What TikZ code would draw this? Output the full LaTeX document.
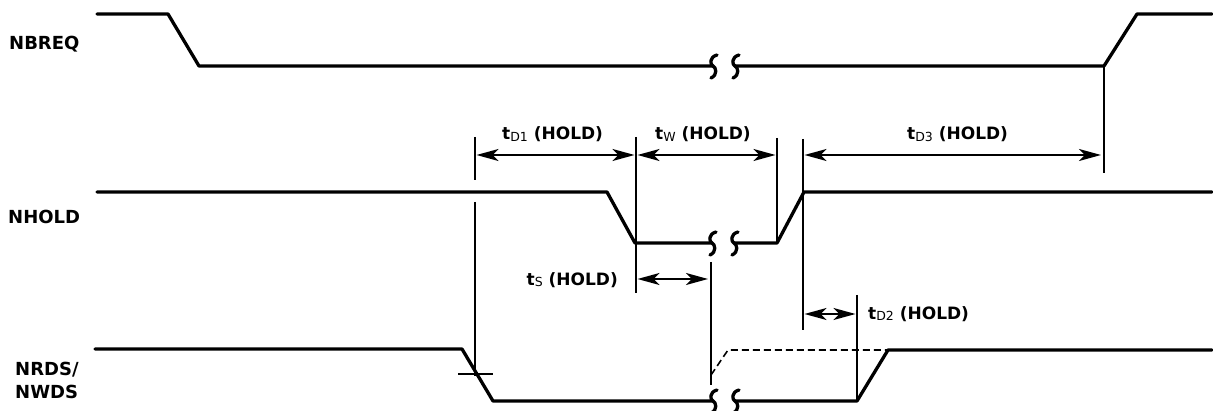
\documentclass[tikz,border=0pt]{standalone}
\usepackage{fontspec}
\setmainfont{DejaVu Sans}
\usetikzlibrary{arrows.meta}
\newcommand\brkmark[2]{\draw[sig] (#1+4,#2-11) .. controls (#1-4,#2-9) and (#1-3,#2-1) .. (#1,#2) .. controls (#1+3,#2+1) and (#1+5,#2+9) .. (#1-2,#2+12);}
\newcommand\tlab[1]{t\raisebox{-1.5pt}{\mdseries\fontsize{12.5}{12.5}\selectfont #1}\ (HOLD)}
\begin{document}
\begin{tikzpicture}[x=1pt,y=-1pt,
  sig/.style={line width=3.3pt, line join=round, line cap=round},
  guide/.style={line width=1.7pt},
  dimarrow/.style={line width=1.8pt, {Stealth[length=22pt,width=12pt,inset=6pt]}-{Stealth[length=22pt,width=12pt,inset=6pt]}},
  dsh/.style={line width=1.6pt, dash pattern=on 7pt off 4pt},
  lbl/.style={font=\fontsize{18}{20}\selectfont\bfseries, inner sep=0pt, anchor=base west},
  tlbl/.style={font=\fontsize{17}{20}\selectfont\bfseries, inner sep=0pt},
]
\useasboundingbox (0,0) rectangle (1213,411);

% signal labels
\node[lbl] (lreq) at (9,49.5) {NBREQ};
\node[lbl] (lhold) at (8,223.5) {NHOLD};
\node[lbl] (lrds) at (15,376) {NRDS/};
\node[lbl] (lwds) at (15,399) {NWDS};

% NBREQ
\draw[sig] (97,14) -- (168,14) -- (199,66) -- (713,66);
\brkmark{713}{66}
\brkmark{735}{66}
\draw[sig] (735,66) -- (1104,66) -- (1137,14) -- (1212,14);

% NHOLD
\draw[sig] (97,192) -- (607,192) -- (635,243) -- (712,243);
\brkmark{712}{243}
\brkmark{734}{243}
\draw[sig] (734,243) -- (777,243) -- (804,192) -- (1212,192);

% NRDS/NWDS
\draw[sig] (95,349) -- (462,349) -- (493,401) -- (713,401);
\brkmark{713}{401}
\brkmark{735}{401}
\draw[sig] (735,401) -- (857,401) -- (888,350) -- (1212,350);
\draw[dsh] (711,375) -- (728,350) -- (888,350);

% guide lines
\coordinate (a1) at (475,155);
\coordinate (a2) at (636,155);
\coordinate (a3) at (777,155);
\coordinate (a4) at (803,155);
\coordinate (a5) at (1104,155);
\coordinate (s1) at (636,279);
\coordinate (s2) at (711,279);
\coordinate (d1) at (803,314);
\coordinate (d2) at (857,314);

\draw[guide] (475,137) -- (475,180);
\draw[guide] (475,202) -- (475,376);
\draw[guide] (458,374) -- (493,374);
\draw[guide] (636,137) -- (636,293);
\draw[guide] (777,138) -- (777,243);
\draw[guide] (803,139) -- (803,330);
\draw[guide] (1104,66) -- (1104,173);
\draw[guide] (711,262) -- (711,385);
\draw[guide] (857,295) -- (857,401);

% dimension arrows
\draw[dimarrow] ([xshift=1.5pt]a1) -- ([xshift=-1.5pt]a2);
\draw[dimarrow] ([xshift=1.5pt]a2) -- ([xshift=-1.5pt]a3);
\draw[dimarrow] ([xshift=1.5pt]a4) -- ([xshift=-3pt]a5);
\draw[dimarrow] ([xshift=1.5pt]s1) -- ([xshift=-3pt]s2);
\draw[dimarrow] ([xshift=1.5pt]d1) -- ([xshift=-1.5pt]d2);

% timing labels
\node[tlbl, anchor=base west] (td1) at (502,140) {\tlab{D1}};
\node[tlbl, anchor=base west] (tw) at (655,140) {\tlab{W}};
\node[tlbl, anchor=base west] (td3) at (907,140) {\tlab{D3}};
\node[tlbl, anchor=base east] (ts) at (618,285.5) {\tlab{S}};
\node[tlbl, anchor=base west] (td2) at (868,319.5) {\tlab{D2}};
\end{tikzpicture}
\end{document}
